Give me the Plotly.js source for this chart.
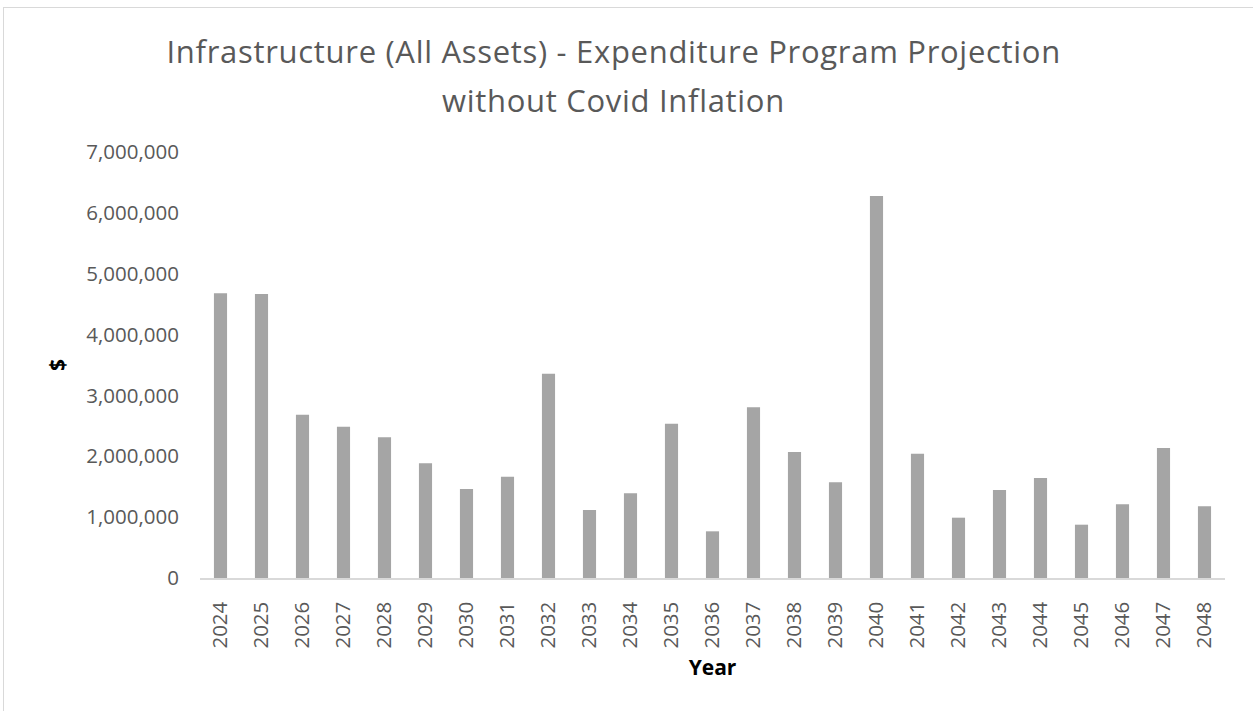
<!DOCTYPE html>
<html>
<head>
<meta charset="utf-8">
<script src="https://cdn.plot.ly/plotly-3.0.1.min.js"></script>
<style>
html,body{margin:0;padding:0;background:#fff;overflow:hidden;}
#frame{position:absolute;left:3px;top:7px;width:1300px;height:800px;border-left:1px solid #d9d9d9;border-top:1px solid #d9d9d9;pointer-events:none;z-index:5;}
#chart{position:absolute;left:0;top:0;width:1253px;height:711px;}
#chart .gtitle, #chart .annotation-text{letter-spacing:0.7px;}
</style>
</head>
<body>
<div id="chart"></div>
<div id="frame"></div>
<script>
const years = ["2024","2025","2026","2027","2028","2029","2030","2031","2032","2033","2034","2035","2036","2037","2038","2039","2040","2041","2042","2043","2044","2045","2046","2047","2048"];
const expenditure = [4678000,4666000,2684000,2486000,2311000,1884000,1462000,1665000,3357000,1117000,1391000,2536000,767000,2804000,2070000,1572000,6277000,2043000,991000,1446000,1643000,876000,1210000,2136000,1178000];
const yTicks = [0,1000000,2000000,3000000,4000000,5000000,6000000,7000000];
const yTickText = ["0","1,000,000","2,000,000","3,000,000","4,000,000","5,000,000","6,000,000","7,000,000"];
const titleLine1 = "Infrastructure (All Assets) - Expenditure Program Projection";
const titleLine2 = "without Covid Inflation";

const font = "Open Sans, Noto Sans, sans-serif";
const trace = {
  type: "bar",
  x: years,
  y: expenditure,
  marker: {color: "#a5a5a5"},
  hoverinfo: "x+y"
};
const layout = {
  width: 1253, height: 711,
  margin: {l: 200, r: 28, t: 152, b: 133},
  paper_bgcolor: "#ffffff",
  plot_bgcolor: "#ffffff",
  bargap: 0.68,
  showlegend: false,
  title: {
    text: titleLine1,
    font: {family: font, size: 31, color: "#595959"},
    xref: "paper", x: 0.4036, xanchor: "center",
    yref: "container", y: 1 - 52/711, yanchor: "middle"
  },
  annotations: [{
    text: titleLine2,
    font: {family: font, size: 31, color: "#595959"},
    xref: "paper", x: 0.4036, xanchor: "center",
    yref: "paper", y: (578 - 100) / 426, yanchor: "middle",
    showarrow: false
  }],
  xaxis: {
    type: "category",
    tickangle: -90,
    tickfont: {family: font, size: 20.5, color: "#595959"},
    ticklabelstandoff: 14,
    showgrid: false,
    showline: true,
    linecolor: "#d9d9d9",
    linewidth: 1.5,
    ticks: "",
    title: {text: "<b>Year</b>", font: {family: font, size: 21, color: "#000000"}, standoff: 12}
  },
  yaxis: {
    range: [0, 7000000],
    tickvals: yTicks,
    ticktext: yTickText,
    tickfont: {family: font, size: 20.5, color: "#595959"},
    ticklabelstandoff: 20,
    showgrid: false,
    zeroline: false,
    showline: false,
    ticks: "",
    title: {text: "<b>$</b>", font: {family: font, size: 21, color: "#000000"}, standoff: 14}
  }
};
Plotly.newPlot("chart", [trace], layout, {displayModeBar: false, staticPlot: true});
</script>
</body>
</html>
